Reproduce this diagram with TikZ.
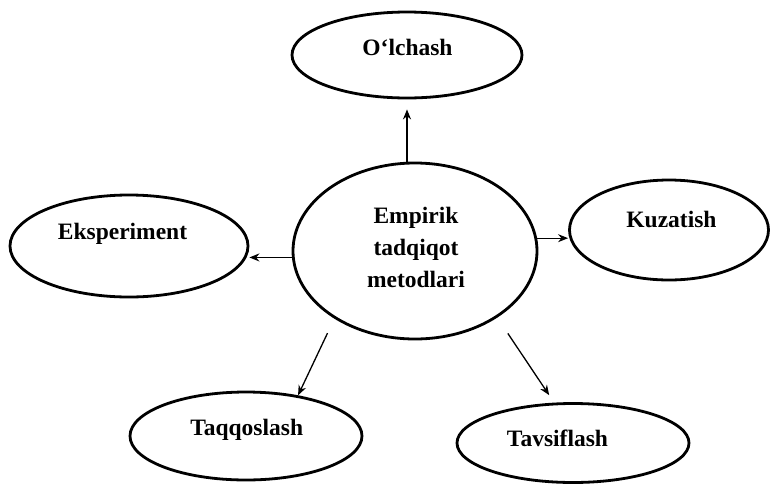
\documentclass[tikz,border=0pt]{standalone}
\usepackage{fontspec}
\setmainfont{Liberation Serif}
\usetikzlibrary{shapes.geometric,arrows.meta}
\begin{document}
\begin{tikzpicture}[x=1pt,y=-1pt,
  oval/.style={draw, ellipse, line width=2.8pt, inner sep=0pt},
  lbl/.style={font=\fontsize{23.5}{32}\selectfont\bfseries, align=center, inner sep=0pt},
  arr/.style={line width=1.3pt, -{Stealth[length=10pt,width=8pt]}}]
\useasboundingbox (0,0) rectangle (772,483);
% ellipses
\node[oval, minimum width=230pt, minimum height=86pt] (o) at (407,55) {};
\node[oval, minimum width=244pt, minimum height=176pt] (c) at (415,251) {};
\node[oval, minimum width=238pt, minimum height=102pt] (e) at (129,246) {};
\node[oval, minimum width=199pt, minimum height=100pt] (k) at (669,230) {};
\node[oval, minimum width=232pt, minimum height=88pt] (t) at (246,436) {};
\node[oval, minimum width=232pt, minimum height=79pt] (v) at (573,443) {};
% texts
\node[lbl, anchor=base] (ot) at (407.5,55) {O‘lchash};
\node[lbl, anchor=center] (ct) at (416,247) {Empirik\\tadqiqot\\metodlari};
\node[lbl, anchor=base] (et) at (122.5,239) {Eksperiment};
\node[lbl, anchor=base] (kt) at (671.5,227) {Kuzatish};
\node[lbl, anchor=base] (tt) at (246.7,435) {Taqqoslash};
\node[lbl, anchor=base] (vt) at (557.5,446) {Tavsiflash};
% connectors
\draw[arr, shorten >=10pt] (c.north -| o.south) -- (o.south);
\draw[arr] (c.6) -- (c.6 -| k.west);
\draw[arr] (c.183.3) -- (c.183.3 -| e.east);
\draw[arr, shorten <=16pt] (c.220) -- (t.38);
\draw[arr, shorten <=19pt, shorten >=9pt] (c.321) -- (v.115);
\end{tikzpicture}
\end{document}
